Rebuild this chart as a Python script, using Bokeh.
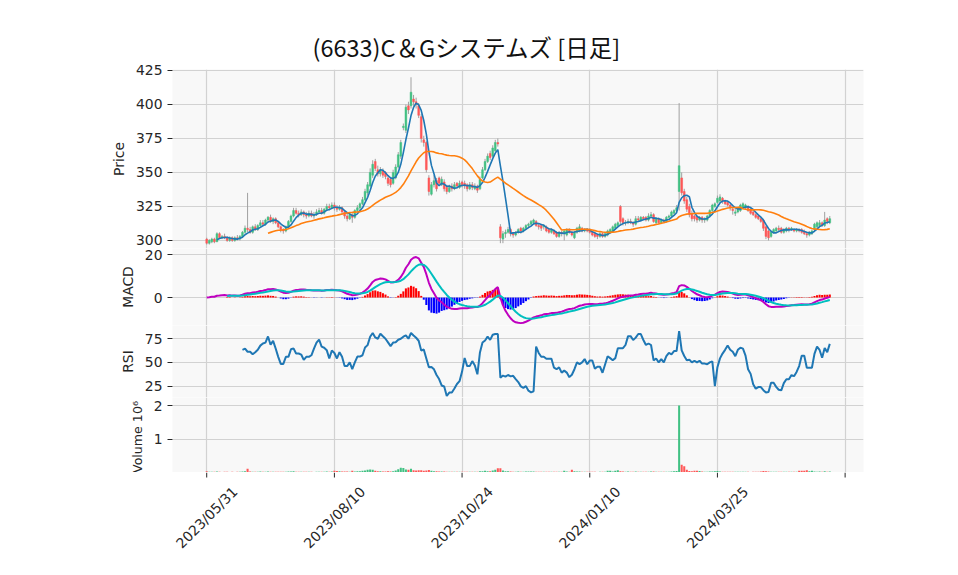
import math
import numpy as np
import pandas as pd
from bokeh.plotting import figure
from bokeh.layouts import column
from bokeh.models import FixedTicker, Range1d, ColumnDataSource
from bokeh.core.properties import value
from bokeh.embed import file_html
from bokeh.resources import INLINE

title_text = "(6633)C＆Gシステムズ  [日足]"
x_ticks = [0, 50, 100, 150, 200, 250]
x_tick_labels = ["2023/05/31", "2023/08/10", "2023/10/24", "2024/01/10", "2024/03/25", ""]

opens = [301,298,299,301,299,305,302,303,302,300, 302,300,302,301,303,306,309,308,306,310,
         308,311,313,312,315,317,314,316,313,310, 308,307,310,314,318,322,320,319,321,319,
         318,320,318,319,321,322,320,323,325,324, 326,324,323,324,321,318,316,319,317,322,
         324,327,330,335,340,348,358,352,349,351, 350,346,345,342,346,354,362,383,381,399,
         399,404,402,399,391,374,372,346,334,341, 344,346,341,343,339,336,340,338,342,339,
         343,342,341,338,341,338,340,338,346,352, 358,364,362,366,372,310,301,305,306,308,
         305,304,306,309,307,309,311,312,313,314, 311,311,310,310,308,306,307,306,303,306,
         305,304,308,306,302,306,307,309,307,308, 308,306,305,304,303,305,303,304,306,307,
         309,311,325,316,313,313,314,313,312,316, 315,317,317,315,318,319,313,316,313,315,
         314,317,318,320,322,336,346,336,330,325, 320,318,317,315,317,315,315,318,322,325,
         328,329,331,329,328,326,323,320,321,322, 324,324,325,323,321,319,318,316,315,310,
         307,303,306,307,309,309,306,307,309,308, 308,307,308,308,307,305,304,305,308,310,
         311,313,311,316,313]
highs = [302,301,302,302,306,306,304,305,303,303, 303,303,304,304,307,311,335,310,311,312,
         312,315,315,316,318,319,317,317,314,311, 309,311,315,319,324,324,322,323,322,321,
         322,322,321,323,324,324,324,327,327,328, 328,326,326,325,322,320,320,320,323,326,
         328,332,338,343,353,359,360,355,354,353, 351,348,346,352,356,365,374,386,400,402,
         420,407,405,401,393,377,373,348,343,348, 346,347,347,345,341,341,342,343,343,344,
         344,344,342,343,343,342,341,347,354,360, 364,366,370,374,375,312,307,308,310,309,
         306,307,309,310,310,312,313,315,316,315, 312,312,312,311,309,309,308,307,307,307,
         308,309,309,307,307,310,312,310,309,309, 309,307,306,305,306,306,306,308,309,311,
         313,314,326,317,315,316,316,314,318,318, 318,318,318,320,321,320,317,317,316,316,
         318,319,322,323,326,401,350,338,332,327, 322,319,318,318,318,317,319,323,327,328,
         333,334,332,330,329,327,324,323,324,327, 328,327,326,324,322,320,319,317,316,311,
         308,307,309,310,311,310,309,310,310,310, 309,309,309,309,308,306,307,308,313,314,
         315,314,321,317,318]
lows = [297,297,298,298,299,301,301,301,299,299, 299,299,300,300,302,305,306,305,305,307,
        307,310,311,311,313,313,312,312,309,306, 305,306,309,313,317,319,317,318,317,316,
        317,317,316,318,320,319,319,322,322,323, 322,321,322,319,316,314,315,313,316,321,
        322,326,329,333,339,346,351,347,347,346, 345,340,339,341,345,353,360,381,379,393,
        397,399,397,390,372,369,350,333,333,339, 336,340,340,336,334,335,336,337,338,338,
        339,338,336,337,337,337,335,337,345,351, 357,359,361,365,369,298,298,302,305,303,
        302,303,305,305,306,308,309,311,312,310, 308,307,308,306,305,305,304,302,302,303,
        300,303,305,303,301,305,306,306,306,306, 305,303,302,301,302,302,302,303,305,306,
        308,310,312,311,311,312,312,310,311,314, 314,315,314,314,317,313,312,312,312,313,
        313,316,317,319,321,322,333,327,321,317, 314,314,313,314,313,313,314,317,321,324,
        327,328,327,326,325,322,319,318,320,321, 323,323,321,319,318,316,315,313,307,301,
        300,302,305,306,307,305,305,306,306,307, 306,306,306,305,304,302,303,304,307,309,
        310,310,310,312,312]
closes = [298,300,301,299,305,302,303,302,300,302, 300,302,301,303,306,309,308,306,310,308,
          311,313,312,315,317,314,316,313,310,308, 307,310,314,318,322,320,319,321,319,318,
          320,318,319,321,322,320,323,325,324,326, 324,323,324,321,318,316,319,317,322,324,
          327,330,336,341,350,356,353,349,352,348, 347,342,341,350,354,363,372,384,398,396,
          409,402,400,392,375,372,352,336,341,344, 338,342,345,338,336,339,338,341,340,342,
          341,340,338,341,339,340,337,345,352,358, 362,361,368,372,371,302,305,306,308,305,
          304,306,308,307,309,311,312,314,315,311, 310,309,311,307,306,308,305,303,306,305,
          307,308,306,304,306,309,310,307,308,307, 306,304,303,303,305,303,305,307,308,310,
          312,313,314,313,313,314,313,312,316,315, 317,316,315,318,319,314,316,313,315,314,
          317,318,321,322,324,355,335,329,323,319, 316,316,315,317,315,316,318,322,326,327,
          331,332,329,327,326,324,322,321,323,326, 327,326,322,320,319,317,316,314,309,303,
          302,306,308,309,308,306,308,309,308,309, 307,308,307,306,305,304,306,307,312,313,
          313,311,315,314,316]
volumes = [40000,25000,20000,22000,30000,25000,18000,20000,22000,18000,
           20000,18000,22000,25000,30000,35000,110000,30000,25000,22000,
           25000,28000,22000,25000,30000,25000,22000,20000,25000,22000,
           20000,22000,28000,30000,35000,25000,22000,25000,20000,20000,
           22000,20000,18000,22000,25000,20000,25000,30000,25000,28000,
           50000,45000,35000,30000,28000,30000,25000,50000,30000,35000,
           40000,50000,60000,80000,90000,85000,55000,40000,35000,30000,
           30000,35000,30000,40000,60000,100000,140000,135000,90000,80000,
           110000,70000,60000,65000,70000,55000,60000,75000,50000,40000,
           35000,30000,30000,28000,25000,25000,22000,25000,22000,20000,
           22000,20000,22000,20000,20000,22000,25000,35000,40000,50000,
           40000,35000,60000,80000,130000,130000,60000,40000,35000,30000,
           25000,25000,28000,22000,25000,30000,28000,32000,30000,25000,
           22000,22000,20000,22000,20000,22000,20000,22000,20000,22000,
           50000,30000,25000,80000,40000,30000,28000,22000,20000,22000,
           20000,22000,20000,18000,20000,22000,25000,50000,55000,30000,
           50000,70000,40000,30000,25000,28000,22000,22000,30000,25000,
           25000,22000,22000,25000,28000,30000,25000,22000,22000,20000,
           22000,25000,30000,40000,45000,2000000,230000,190000,80000,45000,
           40000,50000,50000,45000,30000,25000,25000,28000,30000,35000,
           45000,30000,25000,22000,25000,22000,20000,22000,20000,22000,
           20000,22000,20000,18000,20000,22000,25000,28000,45000,40000,
           30000,25000,22000,22000,20000,22000,20000,22000,20000,20000,
           22000,25000,50000,55000,50000,70000,35000,50000,30000,25000,
           30000,25000,35000,25000,30000]

UP = "#41c183"
DOWN = "#ff5757"
GRID = "#d2d2d2"
BG = "#f8f8f8"
TXT = "#262626"
FONT = "DejaVu Sans"
FS = "13.9px"

n = len(closes)
idx = np.arange(n)
c = pd.Series(closes, dtype=float)
ma5 = c.rolling(5).mean()
ma25 = c.rolling(25).mean()
macd = c.ewm(span=12, adjust=False).mean() - c.ewm(span=26, adjust=False).mean()
signal = macd.ewm(span=9, adjust=False).mean()
signal[:8] = np.nan
hist = macd - signal
delta = c.diff()
gain = delta.clip(lower=0).rolling(14).mean()
loss = (-delta).clip(lower=0).rolling(14).mean()
rsi = 100 * gain / (gain + loss)

candle_colors = [UP if cl >= op else DOWN for op, cl in zip(opens, closes)]
hist_colors = ["#ff0000" if (v >= 0) else "#0000ff" for v in hist.fillna(0)]

XR = Range1d(-13.4, 257.2)


def make_fig(frame_h, yr, top=0, bottom=0, bg=BG, yaxis=True):
    p = figure(frame_width=691, frame_height=frame_h, x_range=XR, y_range=yr,
               output_backend="svg", toolbar_location=None,
               x_axis_location=None, y_axis_location="left" if yaxis else None,
               min_border_left=172, min_border_right=80,
               min_border_top=top, min_border_bottom=bottom,
               background_fill_color=bg, border_fill_color="white",
               outline_line_color=None)
    return p


def style_y(p, ticks, label, overrides=None, label_size=FS):
    ax = p.yaxis[0]
    ax.ticker = FixedTicker(ticks=ticks)
    if overrides:
        ax.major_label_overrides = overrides
    ax.axis_label = label
    ax.axis_label_text_font = FONT
    ax.axis_label_text_font_size = label_size
    ax.axis_label_text_font_style = "normal"
    ax.axis_label_text_color = TXT
    ax.axis_label_standoff = 6
    ax.major_label_text_font = FONT
    ax.major_label_text_font_size = FS
    ax.major_label_text_color = TXT
    ax.axis_line_color = None
    ax.major_tick_line_color = TXT
    ax.major_tick_out = 5
    ax.major_tick_in = 0
    ax.minor_tick_line_color = None
    p.ygrid.ticker = FixedTicker(ticks=ticks)
    p.ygrid.grid_line_color = GRID
    p.ygrid.grid_line_width = 1.2
    p.xgrid.ticker = FixedTicker(ticks=x_ticks)
    p.xgrid.grid_line_color = GRID
    p.xgrid.grid_line_width = 1.2


# Price panel
p1 = make_fig(179, Range1d(294.1, 425.7), top=69)
p1.title.text = title_text
p1.title.align = "left"
p1.title.offset = 140
p1.title.text_font = "Noto Sans CJK JP"
p1.title.text_font_size = "23.5px"
p1.title.text_font_style = "normal"
p1.title.text_color = "#111111"
p1.title.standoff = 12
style_y(p1, [300, 325, 350, 375, 400, 425], "Price")
p1.segment(x0=idx, y0=lows, x1=idx, y1=highs, line_color="#a0a0a0", line_width=1)
p1.vbar(x=idx, width=0.7, top=opens, bottom=closes, fill_color=candle_colors,
        line_color=candle_colors, line_width=0.5)
p1.line(idx, ma5, line_color="#1f77b4", line_width=1.6)
p1.line(idx, ma25, line_color="#ff7f0e", line_width=1.6)

# MACD panel
p2 = make_fig(77, Range1d(-13.0, 22.8))
style_y(p2, [0, 20], "MACD")
p2.vbar(x=idx, width=0.8, top=hist, bottom=0, fill_color=hist_colors, line_color=None)
p2.line(idx, macd, line_color="#bf00bf", line_width=2)
p2.line(idx, signal, line_color="#00bfbf", line_width=2)

# RSI panel
p3 = make_fig(72, Range1d(13.0, 89.0))
style_y(p3, [25, 50, 75], "RSI")
p3.line(idx, rsi, line_color="#1f77b4", line_width=2)

# Volume panel
p4 = make_fig(75, Range1d(0, 2.24e6))
style_y(p4, [1e6, 2e6], "Volume  10⁶", overrides={1000000: "1", 2000000: "2"},
        label_size="12.6px")
p4.vbar(x=idx, width=0.8, top=volumes, bottom=0, fill_color=candle_colors, line_color=None)

# Date axis strip (tick marks and rotated, centred date labels)
p5 = make_fig(90, Range1d(-90, 0), bg="white", yaxis=False)
p5.xgrid.grid_line_color = None
p5.ygrid.grid_line_color = None
tick_src = ColumnDataSource(dict(x=x_ticks, y0=[0] * len(x_ticks), y1=[-5] * len(x_ticks)))
p5.segment(x0="x", y0="y0", x1="x", y1="y1", source=tick_src, line_color=TXT, line_width=1)
lab_src = ColumnDataSource(dict(x=x_ticks, y=[-45] * len(x_ticks), text=x_tick_labels))
p5.text(x="x", y="y", text="text", source=lab_src, angle=math.pi / 4,
        text_align="center", text_baseline="middle",
        text_font=value(FONT), text_font_size=value(FS), text_color=TXT)

layout = column(p1, p2, p3, p4, p5, spacing=0)
open("out.html", "w").write(file_html(layout, INLINE))
